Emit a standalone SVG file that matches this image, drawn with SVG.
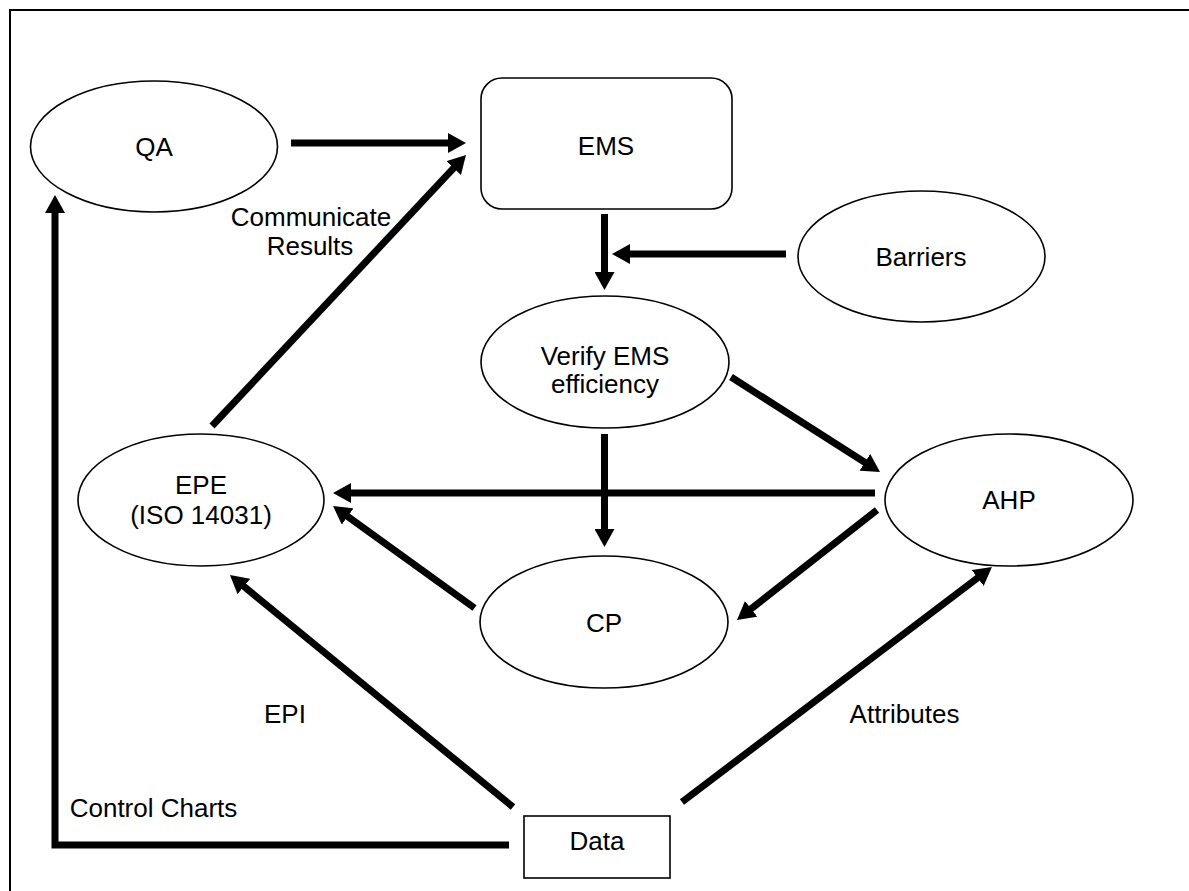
<svg xmlns="http://www.w3.org/2000/svg" width="1189" height="891" viewBox="0 0 1189 891">
  <style>
    .shape { fill: #ffffff; stroke: #000000; stroke-width: 1.6; }
    .frame { fill: none; stroke: #000000; stroke-width: 2; }
    .label { font-family: "Liberation Sans", Arial, sans-serif; font-size: 26px; fill: #000000; text-anchor: middle; }
    .edge { fill: none; stroke: #000000; stroke-width: 7; stroke-linecap: butt; }
  </style>
  <defs>
    <marker id="head" viewBox="0 0 18 20" markerWidth="18" markerHeight="20" refX="4" refY="10" orient="auto" markerUnits="userSpaceOnUse">
      <path d="M0,0 L18,10 L0,20 Z" fill="#000000"/>
    </marker>
  </defs>

  <rect x="0" y="0" width="1189" height="891" fill="#ffffff"/>
  <path class="frame" d="M1189,10 H10 V891"/>

  <g id="connectors">
    <line class="edge" x1="291" y1="143" x2="452" y2="143" marker-end="url(#head)"/>
    <line class="edge" x1="212" y1="426" x2="456.4" y2="165.2" marker-end="url(#head)"/>
    <line class="edge" x1="786" y1="254" x2="626" y2="254" marker-end="url(#head)"/>
    <line class="edge" x1="604.5" y1="214" x2="604.5" y2="276" marker-end="url(#head)"/>
    <line class="edge" x1="731" y1="377" x2="868.2" y2="464.5" marker-end="url(#head)"/>
    <line class="edge" x1="604.5" y1="434" x2="604.5" y2="533" marker-end="url(#head)"/>
    <line class="edge" x1="875" y1="493" x2="347" y2="493" marker-end="url(#head)"/>
    <line class="edge" x1="877" y1="510" x2="748" y2="611.3" marker-end="url(#head)"/>
    <line class="edge" x1="474.5" y1="608" x2="344.4" y2="514.2" marker-end="url(#head)"/>
    <line class="edge" x1="513" y1="807" x2="240.8" y2="583.9" marker-end="url(#head)"/>
    <line class="edge" x1="682" y1="802" x2="980.8" y2="575.5" marker-end="url(#head)"/>
    <polyline class="edge" points="509,845 55,845 55,209" marker-end="url(#head)"/>
    <text class="label" x="311" y="226">Communicate</text>
    <text class="label" x="310" y="255">Results</text>
    <text class="label" x="285" y="723">EPI</text>
    <text class="label" x="904.5" y="723">Attributes</text>
    <text class="label" x="153.5" y="817">Control Charts</text>
  </g>

  <g id="qa">
    <ellipse class="shape" cx="154" cy="146.5" rx="123.5" ry="65.5"/>
    <text class="label" x="154" y="156">QA</text>
  </g>
  <g id="ems">
    <rect class="shape" x="481" y="78" width="251" height="131" rx="21" ry="21"/>
    <text class="label" x="606" y="155">EMS</text>
  </g>
  <g id="barriers">
    <ellipse class="shape" cx="921.5" cy="256.5" rx="123.5" ry="65.5"/>
    <text class="label" x="921" y="266">Barriers</text>
  </g>
  <g id="verify">
    <ellipse class="shape" cx="605" cy="362" rx="124" ry="66"/>
    <text class="label" x="605" y="365">Verify EMS</text>
    <text class="label" x="605" y="393">efficiency</text>
  </g>
  <g id="epe">
    <ellipse class="shape" cx="201" cy="500" rx="123" ry="66"/>
    <text class="label" x="201" y="494">EPE</text>
    <text class="label" x="201" y="524">(ISO 14031)</text>
  </g>
  <g id="ahp">
    <ellipse class="shape" cx="1009" cy="500" rx="124" ry="66"/>
    <text class="label" x="1009" y="509">AHP</text>
  </g>
  <g id="cp">
    <ellipse class="shape" cx="604" cy="622" rx="124" ry="66"/>
    <text class="label" x="604" y="632">CP</text>
  </g>
  <g id="data">
    <rect class="shape" x="524" y="816" width="146" height="62"/>
    <text class="label" x="597" y="850">Data</text>
  </g>
</svg>
